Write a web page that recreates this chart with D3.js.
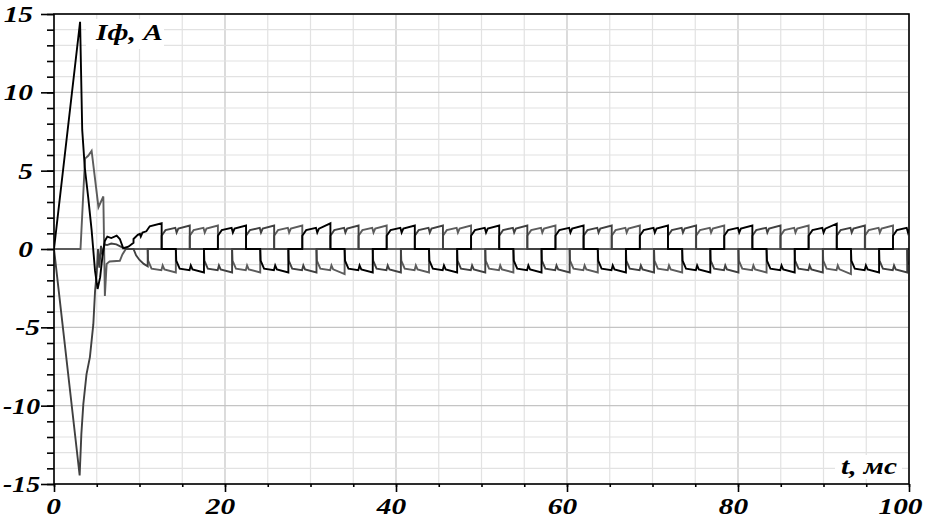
<!DOCTYPE html>
<html><head><meta charset="utf-8">
<script src="https://cdn.jsdelivr.net/npm/d3@7"></script>
<style>
html,body{margin:0;padding:0;background:#fff;}
svg{display:block;}
.lbl{font-family:"Liberation Serif","Times New Roman",serif;font-weight:bold;font-style:italic;font-size:23.5px;fill:#000;}
</style></head><body>
<svg id="chart" width="926" height="521"></svg>
<script>
// ---- data (t in ms, current in A) ----
const xTicksMajor = [0, 20, 40, 60, 80, 100];
const yTicksMajor = [-15, -10, -5, 0, 5, 10, 15];
const yAxisTitle = "Iф, A";
const xAxisTitle = "t, мс";

const phaseA = [ // black
[0,0],[3.05,14.5],[3.3,7.6],[3.6,5.2],[4.0,3.3],[4.4,1.2],[4.8,-1.4],[5.1,-2.55],[5.4,-1.8],[5.7,-0.3],[5.96,0.53],[6.24,0.79],[6.7,0.7],[7.33,0.85],[7.7,0.64],[8.1,0.05],[8.7,0.15],[9.3,0.4],
[9.3,0.64],[9.8,0.9],[10.05,0.97],[10.15,0.8],[10.35,1.05],[10.8,1.13],[11.2,1.45],[12.59,1.64],[12.59,0],
[14.25,0],[14.3,-0.75],[14.7,-1.25],[15.85,-1.35],[16.0,-1.05],[16.2,-1.3],[17.54,-1.5],[17.54,0],
[19.17,0],[19.17,0.85],[19.62,1.2],[20.77,1.35],[20.92,1.05],[21.12,1.3],[22.46,1.5],[22.46,0],
[24.12,0],[24.17,-0.75],[24.57,-1.25],[25.72,-1.35],[25.87,-1.05],[26.07,-1.3],[27.41,-1.5],[27.41,0],
[29.04,0],[29.04,0.85],[29.49,1.2],[30.64,1.35],[30.79,1.05],[30.99,1.3],[32.33,1.64],[32.33,0],
[33.99,0],[34.04,-0.75],[34.44,-1.25],[35.59,-1.35],[35.74,-1.05],[35.94,-1.3],[37.28,-1.5],[37.28,0],
[38.91,0],[38.91,0.85],[39.36,1.2],[40.51,1.35],[40.66,1.05],[40.86,1.3],[42.2,1.5],[42.2,0],
[43.86,0],[43.91,-0.75],[44.31,-1.25],[45.46,-1.35],[45.61,-1.05],[45.81,-1.3],[47.15,-1.5],[47.15,0],
[48.78,0],[48.78,0.85],[49.23,1.2],[50.38,1.35],[50.53,1.05],[50.73,1.3],[52.07,1.5],[52.07,0],
[53.73,0],[53.78,-0.75],[54.18,-1.25],[55.33,-1.35],[55.48,-1.05],[55.68,-1.3],[57.02,-1.5],[57.02,0],
[58.65,0],[58.65,0.85],[59.1,1.2],[60.25,1.35],[60.4,1.05],[60.6,1.3],[61.94,1.5],[61.94,0],
[63.6,0],[63.65,-0.75],[64.05,-1.25],[65.2,-1.35],[65.35,-1.05],[65.55,-1.3],[66.89,-1.5],[66.89,0],
[68.52,0],[68.52,0.85],[68.97,1.2],[70.12,1.35],[70.27,1.05],[70.47,1.3],[71.81,1.5],[71.81,0],
[73.47,0],[73.52,-0.75],[73.92,-1.25],[75.07,-1.35],[75.22,-1.05],[75.42,-1.3],[76.76,-1.5],[76.76,0],
[78.39,0],[78.39,0.85],[78.84,1.2],[79.99,1.35],[80.14,1.05],[80.34,1.3],[81.68,1.5],[81.68,0],
[83.34,0],[83.39,-0.75],[83.79,-1.25],[84.94,-1.35],[85.09,-1.05],[85.29,-1.3],[86.63,-1.5],[86.63,0],
[88.26,0],[88.26,0.85],[88.71,1.2],[89.86,1.35],[90.01,1.05],[90.21,1.3],[91.55,1.62],[91.55,0],
[93.21,0],[93.26,-0.75],[93.66,-1.25],[94.81,-1.35],[94.96,-1.05],[95.16,-1.3],[96.5,-1.5],[96.5,0],
[98.13,0],[98.13,0.85],[98.58,1.2],[99.73,1.35],[99.88,1.05],[100,1.25]
];

const phaseB = [ // dark grey
[0,0],[3.0,-14.45],[3.2,-11.8],[3.43,-9.9],[3.8,-8.0],[4.2,-6.9],[4.6,-4.8],[4.8,-2.7],[5.0,-1.5],[5.15,0.0],[5.3,-1.2],[5.5,0.2],[5.7,-0.4],[5.9,0.3],[6.2,0.25],[6.7,0.35],[7.3,0.3],[7.8,0.15],[8.4,0],[9.3,0],[9.6,-0.4],[10.0,-0.7],[10.5,-0.95],[10.96,-1.1],[10.96,0],
[12.59,0],[12.59,0.85],[13.04,1.2],[14.19,1.35],[14.34,1.05],[14.54,1.3],[15.88,1.5],[15.88,0],
[17.54,0],[17.59,-0.75],[17.99,-1.25],[19.14,-1.35],[19.29,-1.05],[19.49,-1.3],[20.83,-1.5],[20.83,0],
[22.46,0],[22.46,0.85],[22.91,1.2],[24.06,1.35],[24.21,1.05],[24.41,1.3],[25.75,1.5],[25.75,0],
[27.41,0],[27.46,-0.75],[27.86,-1.25],[29.01,-1.35],[29.16,-1.05],[29.36,-1.3],[30.7,-1.5],[30.7,0],
[32.33,0],[32.33,0.85],[32.78,1.2],[33.93,1.35],[34.08,1.05],[34.28,1.3],[35.62,1.5],[35.62,0],
[37.28,0],[37.33,-0.75],[37.73,-1.25],[38.88,-1.35],[39.03,-1.05],[39.23,-1.3],[40.57,-1.5],[40.57,0],
[42.2,0],[42.2,0.85],[42.65,1.2],[43.8,1.35],[43.95,1.05],[44.15,1.3],[45.49,1.5],[45.49,0],
[47.15,0],[47.2,-0.75],[47.6,-1.25],[48.75,-1.35],[48.9,-1.05],[49.1,-1.3],[50.44,-1.5],[50.44,0],
[52.07,0],[52.07,0.85],[52.52,1.2],[53.67,1.35],[53.82,1.05],[54.02,1.3],[55.36,1.5],[55.36,0],
[57.02,0],[57.07,-0.75],[57.47,-1.25],[58.62,-1.35],[58.77,-1.05],[58.97,-1.3],[60.31,-1.5],[60.31,0],
[61.94,0],[61.94,0.85],[62.39,1.2],[63.54,1.35],[63.69,1.05],[63.89,1.3],[65.23,1.5],[65.23,0],
[66.89,0],[66.94,-0.75],[67.34,-1.25],[68.49,-1.35],[68.64,-1.05],[68.84,-1.3],[70.18,-1.5],[70.18,0],
[71.81,0],[71.81,0.85],[72.26,1.2],[73.41,1.35],[73.56,1.05],[73.76,1.3],[75.1,1.5],[75.1,0],
[76.76,0],[76.81,-0.75],[77.21,-1.25],[78.36,-1.35],[78.51,-1.05],[78.71,-1.3],[80.05,-1.5],[80.05,0],
[81.68,0],[81.68,0.85],[82.13,1.2],[83.28,1.35],[83.43,1.05],[83.63,1.3],[84.97,1.5],[84.97,0],
[86.63,0],[86.68,-0.75],[87.08,-1.25],[88.23,-1.35],[88.38,-1.05],[88.58,-1.3],[89.92,-1.5],[89.92,0],
[91.55,0],[91.55,0.85],[92.0,1.2],[93.15,1.35],[93.3,1.05],[93.5,1.3],[94.84,1.5],[94.84,0],
[96.5,0],[96.55,-0.75],[96.95,-1.25],[98.1,-1.35],[98.25,-1.05],[98.45,-1.3],[99.79,-1.5],[99.79,0],[100,0]
];

const phaseC = [ // grey
[0,0],[3.1,0],[3.63,5.77],[4.0,5.95],[4.4,6.26],[5.2,2.67],[5.77,3.35],[5.95,-3.0],[6.1,-1.5],[6.16,-0.95],[6.5,-0.8],[7.7,-0.75],[8.0,-0.35],[8.4,0],
[10.96,0],[11.01,-0.75],[11.41,-1.25],[12.56,-1.35],[12.71,-1.05],[12.91,-1.3],[14.25,-1.5],[14.25,0],
[15.88,0],[15.88,0.85],[16.33,1.2],[17.48,1.35],[17.63,1.05],[17.83,1.3],[19.17,1.5],[19.17,0],
[20.83,0],[20.88,-0.75],[21.28,-1.25],[22.43,-1.35],[22.58,-1.05],[22.78,-1.3],[24.12,-1.5],[24.12,0],
[25.75,0],[25.75,0.85],[26.2,1.2],[27.35,1.35],[27.5,1.05],[27.7,1.3],[29.04,1.5],[29.04,0],
[30.7,0],[30.75,-0.75],[31.15,-1.25],[32.3,-1.35],[32.45,-1.05],[32.65,-1.3],[33.99,-1.6],[33.99,0],
[35.62,0],[35.62,0.85],[36.07,1.2],[37.22,1.35],[37.37,1.05],[37.57,1.3],[38.91,1.5],[38.91,0],
[40.57,0],[40.62,-0.75],[41.02,-1.25],[42.17,-1.35],[42.32,-1.05],[42.52,-1.3],[43.86,-1.5],[43.86,0],
[45.49,0],[45.49,0.85],[45.94,1.2],[47.09,1.35],[47.24,1.05],[47.44,1.3],[48.78,1.5],[48.78,0],
[50.44,0],[50.49,-0.75],[50.89,-1.25],[52.04,-1.35],[52.19,-1.05],[52.39,-1.3],[53.73,-1.5],[53.73,0],
[55.36,0],[55.36,0.85],[55.81,1.2],[56.96,1.35],[57.11,1.05],[57.31,1.3],[58.65,1.5],[58.65,0],
[60.31,0],[60.36,-0.75],[60.76,-1.25],[61.91,-1.35],[62.06,-1.05],[62.26,-1.3],[63.6,-1.5],[63.6,0],
[65.23,0],[65.23,0.85],[65.68,1.2],[66.83,1.35],[66.98,1.05],[67.18,1.3],[68.52,1.5],[68.52,0],
[70.18,0],[70.23,-0.75],[70.63,-1.25],[71.78,-1.35],[71.93,-1.05],[72.13,-1.3],[73.47,-1.5],[73.47,0],
[75.1,0],[75.1,0.85],[75.55,1.2],[76.7,1.35],[76.85,1.05],[77.05,1.3],[78.39,1.5],[78.39,0],
[80.05,0],[80.1,-0.75],[80.5,-1.25],[81.65,-1.35],[81.8,-1.05],[82.0,-1.3],[83.34,-1.5],[83.34,0],
[84.97,0],[84.97,0.85],[85.42,1.2],[86.57,1.35],[86.72,1.05],[86.92,1.3],[88.26,1.5],[88.26,0],
[89.92,0],[89.97,-0.75],[90.37,-1.25],[91.52,-1.35],[91.67,-1.05],[91.87,-1.3],[93.21,-1.6],[93.21,0],
[94.84,0],[94.84,0.85],[95.29,1.2],[96.44,1.35],[96.59,1.05],[96.79,1.3],[98.13,1.5],[98.13,0],
[99.79,0],[99.84,-0.75],[100,-1.0]
];

// ---- drawing ----
const svg = d3.select("#chart");
const L = 54, R = 909, T = 14, B = 484;
const SX = 1.25; // horizontal stretch of the label font
const x = d3.scaleLinear().domain([0, 100]).range([L, R]);
const y = d3.scaleLinear().domain([-15, 15]).range([B, T]);

svg.append("rect").attr("width", 926).attr("height", 521).attr("fill", "#fff");

// grid
const g = svg.append("g");
g.selectAll(".vx").data(d3.range(0, 101, 5)).join("line")
  .attr("x1", d => x(d)).attr("x2", d => x(d)).attr("y1", T).attr("y2", B)
  .attr("stroke", d => d % 20 === 0 ? "#c4c4c4" : "#e2e2e2").attr("stroke-width", 1.2);
g.selectAll(".hy").data(d3.range(-15, 16, 1)).join("line")
  .attr("x1", L).attr("x2", R).attr("y1", d => y(d)).attr("y2", d => y(d))
  .attr("stroke", d => d % 5 === 0 ? "#c4c4c4" : "#e2e2e2").attr("stroke-width", 1.2);

// axis title boxes
function titleBox(txt, tx, ty, bx, by, bw, bh) {
  svg.append("rect").attr("x", bx).attr("y", by).attr("width", bw).attr("height", bh).attr("fill", "#fff");
  svg.append("text").attr("class", "lbl").attr("transform", `translate(${tx},${ty}) scale(${SX},1)`).text(txt);
}
titleBox(yAxisTitle, 96, 40, 86, 19, 78, 30);
titleBox(xAxisTitle, 841, 474, 835, 455, 67, 24);

// lines
svg.append("clipPath").attr("id", "clip").append("rect")
  .attr("x", L).attr("y", T - 2).attr("width", R - L).attr("height", B - T + 4);
const line = d3.line().x(d => x(d[0])).y(d => y(d[1]));
const series = [
  {data: phaseC, color: "#5c5c5c"},
  {data: phaseB, color: "#404040"},
  {data: phaseA, color: "#000000"}
];
svg.append("g").attr("clip-path", "url(#clip)").selectAll("path").data(series).join("path")
  .attr("d", d => line(d.data)).attr("fill", "none")
  .attr("stroke", d => d.color).attr("stroke-width", 1.9).attr("stroke-linejoin", "miter");

// frame
svg.append("rect").attr("x", L).attr("y", T).attr("width", R - L).attr("height", B - T)
  .attr("fill", "none").attr("stroke", "#000").attr("stroke-width", 1.6);

// axes
const yMinor = d3.axisLeft(y).tickValues(d3.range(-15, 16, 1)).tickSize(7).tickFormat("");
const yMajor = d3.axisLeft(y).tickValues(yTicksMajor).tickSize(13).tickPadding(8).tickFormat(d => d);
const xMinor = d3.axisBottom(x).tickValues(d3.range(0, 101, 5)).tickSize(3).tickFormat("");
const xMajor = d3.axisBottom(x).tickValues(xTicksMajor).tickSize(8).tickPadding(5).tickFormat(d => d);

function styleAxis(sel) {
  sel.select(".domain").remove();
  sel.selectAll("line").attr("stroke", "#000").attr("stroke-width", 1.6);
  sel.selectAll("text").attr("class", "lbl").attr("fill", "#000");
}
svg.append("g").attr("transform", `translate(${L},0)`).call(yMinor).call(styleAxis);
const yg = svg.append("g").attr("transform", `translate(${L},0)`).call(yMajor).call(styleAxis);
yg.selectAll(".tick text").each(function(d) {
  const t = d3.select(this); const xx = +t.attr("x") + (d < 0 ? 7 : 0);
  const s = d <= -10 ? 1.18 : SX;
  t.attr("x", 0).attr("transform", `translate(${xx},0) scale(${s},1)`);
});
svg.append("g").attr("transform", `translate(0,${B})`).call(xMinor).call(styleAxis);
const xg = svg.append("g").attr("transform", `translate(0,${B})`).call(xMajor).call(styleAxis);
xg.selectAll(".tick text").each(function(d) {
  const t = d3.select(this); const yy = +t.attr("y");
  const dx = d === 100 ? -9 : (d === 0 ? -1 : -5);
  t.attr("y", 0).attr("transform", `translate(${dx},${yy}) scale(${SX},1)`);
});
</script>
</body></html>
